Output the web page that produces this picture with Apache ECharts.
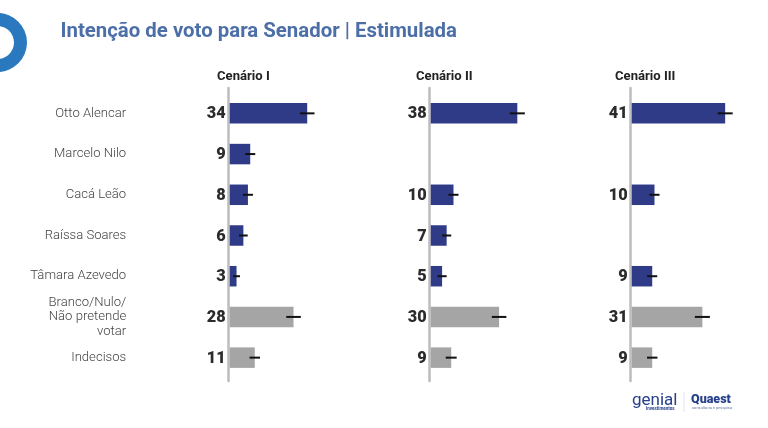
<!DOCTYPE html>
<html><head><meta charset="utf-8">
<style>html,body{margin:0;padding:0;background:#fff}#c{width:768px;height:428px}</style>
<script src="https://cdn.jsdelivr.net/npm/echarts@6/dist/echarts.min.js"></script>
</head><body><div id="c"></div>
<script>
const categories = ['Otto Alencar','Marcelo Nilo','Cacá Leão','Raíssa Soares','Tâmara Azevedo','Branco/Nulo/\nNão pretende\nvotar','Indecisos'];
const scenarios = ['Cenário I','Cenário II','Cenário III'];
const valuesI   = [34, 9, 8, 6, 3, 28, 11];
const valuesII  = [38, null, 10, 7, 5, 30, 9];
const valuesIII = [41, null, 10, null, 9, 31, 9];
const marginsI   = [3.2, 2.2, 2.2, 1.9, 1.5, 3.2, 2.3];
const marginsII  = [3.3, null, 2.2, 2.0, 2.0, 3.2, 2.4];
const marginsIII = [3.3, null, 2.2, null, 2.2, 3.3, 2.3];
const blueCount = 5;
const allValues = [valuesI, valuesII, valuesIII];
const allMargins = [marginsI, marginsII, marginsIII];
const panelLeft = [229.7, 430.7, 631.7];
const titleLeft = [212, 411, 610];
const FONT = 'Roboto';

const grids = [], xAxes = [], yAxes = [], series = [], titles = [];
titles.push({text:'Intenção de voto para Senador | Estimulada', left:55.5, top:17,
  textStyle:{fontFamily:FONT,fontWeight:700,fontSize:20.4,color:'#4d6fa8'}});

allValues.forEach((vals,i)=>{
  titles.push({text:scenarios[i], left:titleLeft[i], top:65.5,
    textStyle:{fontFamily:FONT,fontWeight:700,fontSize:13.1,color:'#222'}});
  grids.push({left:panelLeft[i], top:93, width:100.3, height:285});
  xAxes.push({gridIndex:grids.length-1,type:'value',min:0,max:44,show:false});
  yAxes.push({gridIndex:grids.length-1,type:'category',inverse:true,data:categories,
    axisLine:{show:false},axisTick:{show:false},
    axisLabel:{show:i===0,interval:0,margin:103.5,align:'right',fontFamily:FONT,fontWeight:300,
      fontSize:13.1,lineHeight:14.3,color:'#444',padding:[3,0,0,0]}});
  const g = grids.length-1;
  series.push({type:'bar',xAxisIndex:g,yAxisIndex:g,barWidth:20.5,
    data:vals.map((v,k)=>({value:v,itemStyle:{color:k<blueCount?'#2f3b87':'#a5a5a5'}})),
    label:{show:true,position:'left',distance:4,offset:[0,1],fontFamily:FONT,fontWeight:900,fontSize:16.3,color:'#2b2b2b',
      formatter:p=>p.value==null?'':p.value}});
  series.push({type:'custom',xAxisIndex:g,yAxisIndex:g,z:5,
    encode:{x:[1,2],y:0},
    data:vals.map((v,k)=>v==null?null:[k,v-allMargins[i][k],v+allMargins[i][k]]).filter(Boolean),
    renderItem:(params,api)=>{
      const a=api.coord([api.value(1),api.value(0)]), b=api.coord([api.value(2),api.value(0)]);
      return {type:'line',shape:{x1:a[0],y1:a[1],x2:b[0],y2:b[1]},style:{stroke:'#111',lineWidth:2}};
    }});
});
panelLeft.forEach((l,i)=>{
  grids.push({left:l-1.4, top:88, width:10, height:293});
  const g=grids.length-1;
  xAxes.push({gridIndex:g,type:'value',show:false});
  yAxes.push({gridIndex:g,type:'category',data:[],axisTick:{show:false},axisLabel:{show:false},
    axisLine:{show:true,lineStyle:{color:'#bdbdbd',width:2.5}}});
});

const chart = echarts.init(document.getElementById('c'),null,{renderer:'canvas'});
chart.setOption({
  animation:false,backgroundColor:'#fff',
  title:titles,grid:grids,xAxis:xAxes,yAxis:yAxes,series,
  graphic:[
    {type:'ring',shape:{cx:-2.5,cy:42.5,r:29.5,r0:16.5},style:{fill:'#2a78bd'}},
    {type:'text',style:{x:632,y:392,text:'genial',fontFamily:FONT,fontSize:17,fontWeight:400,fill:'#27408b'}},
    {type:'text',style:{x:646,y:406.5,text:'investimentos',fontFamily:FONT,fontSize:4.5,fontWeight:700,fill:'#27408b'}},
    {type:'line',shape:{x1:684,y1:392,x2:684,y2:412},style:{stroke:'#dfe4ee',lineWidth:1}},
    {type:'text',style:{x:691,y:393,text:'Quaest',fontFamily:FONT,fontSize:12.5,fontWeight:900,fill:'#27408b'}},
    {type:'text',style:{x:692,y:406,text:'consultoria e pesquisa',fontFamily:FONT,fontSize:4,fill:'#6a7aa8'}}
  ]
});
</script></body></html>
